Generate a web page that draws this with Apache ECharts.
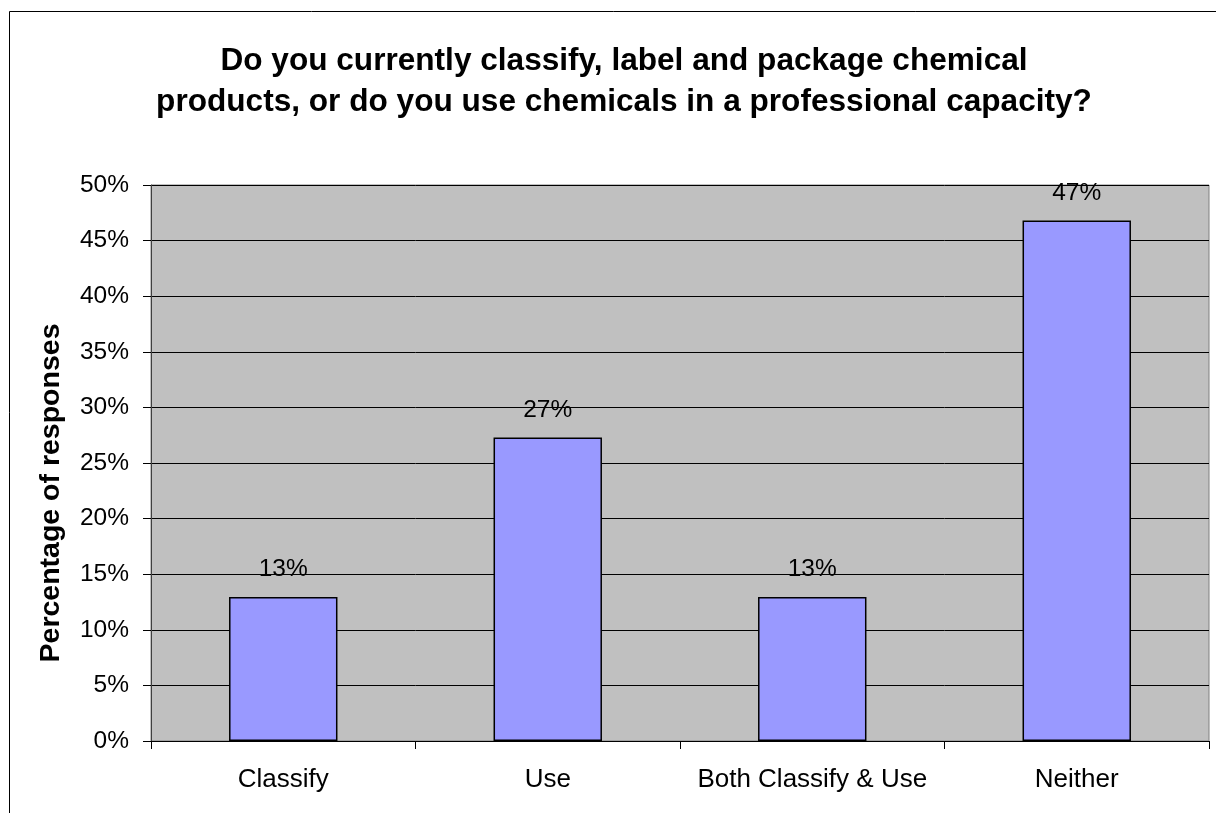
<!DOCTYPE html>
<html>
<head>
<meta charset="utf-8">
<script src="https://cdn.jsdelivr.net/npm/echarts@6/dist/echarts.min.js"></script>
<style>
html,body{margin:0;padding:0;background:#fff;}
#chart{width:1216px;height:813px;}
</style>
</head>
<body>
<div id="chart"></div>
<script>
var categories = ['Classify', 'Use', 'Both Classify & Use', 'Neither'];
var values = [12.95, 27.3, 12.95, 46.8];
var yTicks = { min: 0, max: 50, interval: 5 };
var titleText = 'Do you currently classify, label and package chemical\nproducts, or do you use chemicals in a professional capacity?';
var yAxisName = 'Percentage of responses';

var chart = echarts.init(document.getElementById('chart'), null, { renderer: 'canvas' });
var FONT = '"Liberation Sans", Arial, sans-serif';
chart.setOption({
  animation: false,
  backgroundColor: '#ffffff',
  title: {
    text: titleText,
    left: 619,
    top: 36,
    textAlign: 'center',
    textStyle: { fontFamily: FONT, fontSize: 31.6, fontWeight: 'bold', color: '#000', lineHeight: 41 }
  },
  graphic: [{
    type: 'rect',
    silent: true,
    shape: { x: 9.5, y: 11.5, width: 1300, height: 900 },
    style: { fill: null, stroke: '#000', lineWidth: 1 },
    z: -1
  }],
  grid: {
    left: 151, right: 7, top: 185, bottom: 72,
    show: true,
    backgroundColor: '#C0C0C0',
    borderColor: '#808080',
    borderWidth: 1
  },
  xAxis: {
    type: 'category',
    data: categories,
    axisLine: { show: true, lineStyle: { color: '#000', width: 1 } },
    axisTick: { show: true, interval: 0, length: 8, lineStyle: { color: '#000' } },
    axisLabel: { interval: 0, hideOverlap: false, fontFamily: FONT, fontSize: 26, color: '#000', margin: 26 },
    splitLine: { show: false }
  },
  yAxis: {
    type: 'value',
    min: yTicks.min, max: yTicks.max, interval: yTicks.interval,
    name: yAxisName,
    nameLocation: 'middle',
    nameGap: 85,
    nameRotate: 90,
    nameTextStyle: { fontFamily: FONT, fontSize: 28.5, fontWeight: 'bold', color: '#000', padding: [0, 60, 0, 0] },
    axisLine: { show: true, lineStyle: { color: '#404040', width: 1 } },
    axisTick: { show: true, length: 8, lineStyle: { color: '#000' } },
    axisLabel: { fontFamily: FONT, fontSize: 24.5, color: '#000', margin: 22, formatter: '{value}%' },
    splitLine: { show: true, lineStyle: { color: '#000', width: 1 } }
  },
  series: [{
    type: 'bar',
    data: values,
    barCategoryGap: '59%',
    itemStyle: { color: '#9999FF', borderColor: '#000', borderWidth: 1.5 },
    label: {
      show: true,
      position: 'top',
      distance: 15,
      fontFamily: FONT, fontSize: 24.5, color: '#000',
      formatter: function (p) { return Math.round(p.value) + '%'; }
    }
  }]
});
</script>
</body>
</html>
